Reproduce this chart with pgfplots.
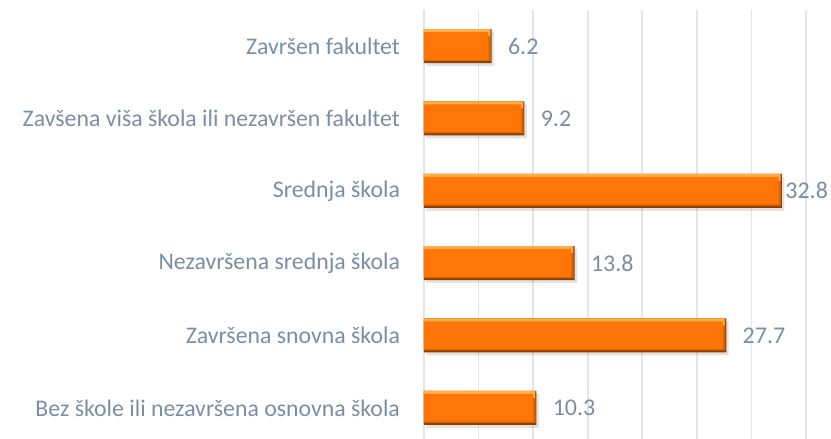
\documentclass[border=0pt]{standalone}
\usepackage{pgfplots}
\pgfplotsset{compat=1.18}
\usepackage{pgfplotstable}
\usepackage{fontspec}
\setmainfont{Carlito}
\usetikzlibrary{shadows}
\definecolor{lbl}{HTML}{7D8DA3}
\definecolor{gridc}{HTML}{E2E5EA}
\definecolor{barbase}{HTML}{8E4000}
\definecolor{barbevel}{HTML}{D96200}
\definecolor{bartop}{HTML}{FFAE4A}
\definecolor{barmain}{HTML}{FF7608}
\pgfplotstableread{
y val shift
0 10.3 8
1 27.7 8
2 13.8 8
3 32.8 1.5
4 9.2 8
5 6.2 8
}\datatable
\begin{document}
\begin{tikzpicture}[x=0.5pt,y=0.5pt]
\path[use as bounding box] (0,0) rectangle (831,439);
\begin{axis}[
  at={(212pt,214.5pt)}, anchor=north west,
  scale only axis, width=191pt, height=217pt,
  xmin=0, xmax=35, ymin=-0.5, ymax=5.5,
  xtick={0,5,...,35}, xticklabels={},
  ytick={0,1,2,3,4,5},
  yticklabels={Bez škole ili nezavršena osnovna škola, Završena snovna škola, Nezavršena srednja škola, Srednja škola, Zavšena viša škola ili nezavršen fakultet, Završen fakultet},
  yticklabel style={font=\fontsize{11.9}{14}\selectfont, text=lbl, xshift=-8.5pt},
  major tick length=0pt,
  axis line style={draw=none},
  xmajorgrids, major grid style={color=gridc, line width=0.8pt},
  clip=false,
  xbar, bar shift=0pt,
]
\addplot[draw=none, fill=barbase, bar width=17pt, drop shadow={shadow xshift=1.2pt, shadow yshift=-1.5pt, opacity=0.22},
  nodes near coords, point meta=explicit,
  nodes near coords style={font=\fontsize{12}{14}\selectfont, text=lbl, anchor=west, inner sep=0pt, xshift=\myshift pt,
    /pgf/number format/.cd, fixed, fixed zerofill, precision=1, assume math mode=true},
  visualization depends on={\thisrow{shift} \as \myshift},
] table[x=val, y=y, meta=val] {\datatable};
\addplot[draw=none, fill=barbevel, bar width=16pt, bar shift=0.5pt] table[x expr=\thisrow{val}-0.08, y=y] {\datatable};
\addplot[draw=none, fill=bartop, bar width=3.5pt, bar shift=6.75pt] table[x expr=\thisrow{val}-0.15, y=y] {\datatable};
\addplot[draw=none, fill=barmain, bar width=13.8pt, bar shift=0.1pt] table[x expr=\thisrow{val}-0.3, y=y] {\datatable};
\end{axis}
\end{tikzpicture}
\end{document}
